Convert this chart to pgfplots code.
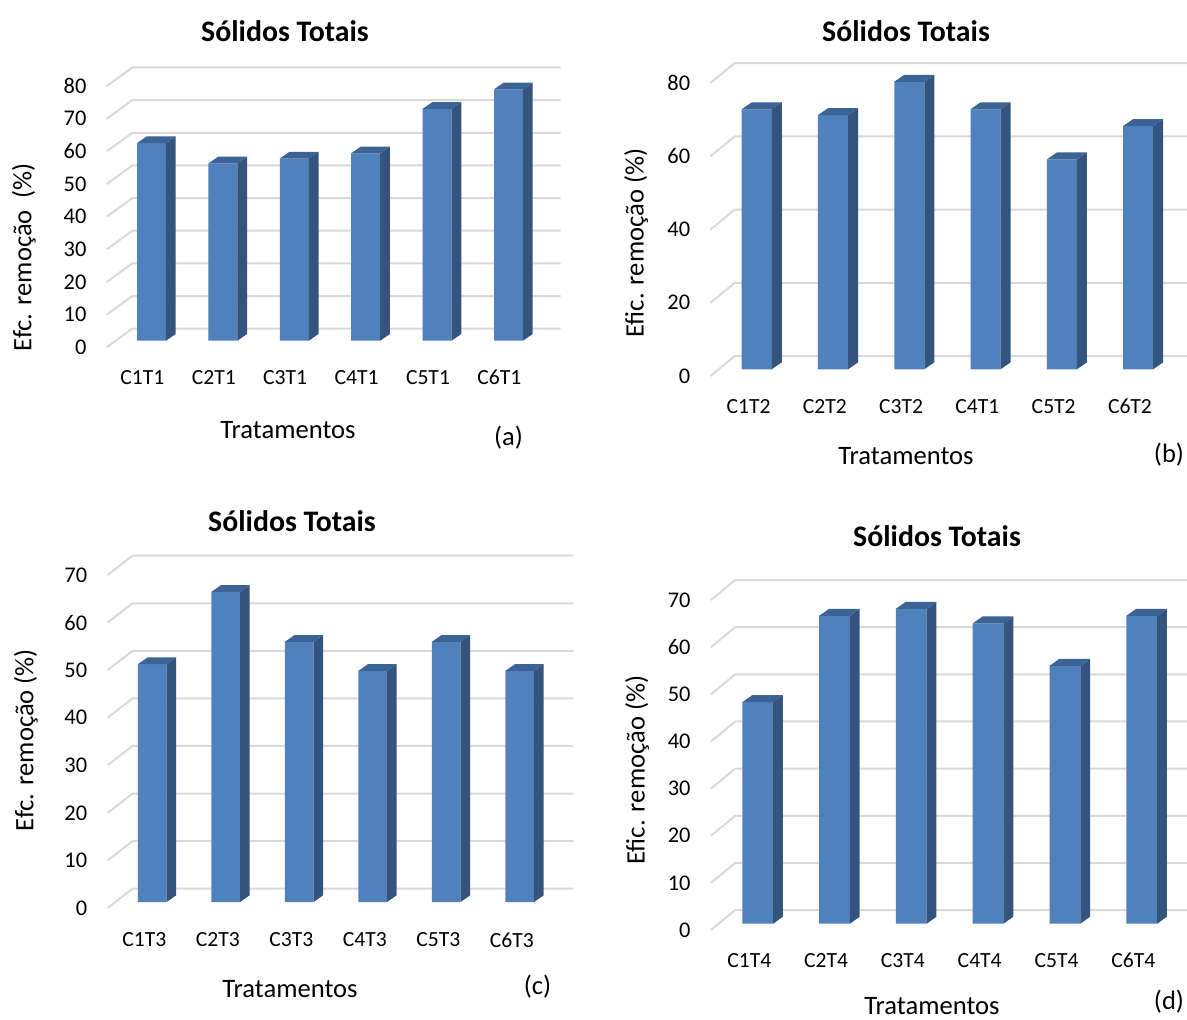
\documentclass[border=0pt]{standalone}
\usepackage{fontspec}
\setmainfont{Carlito}
\usepackage{pgfplots}
\usepackage{pgfplotstable}
\pgfplotsset{compat=1.18}

\definecolor{barfront}{RGB}{79,129,189}
\definecolor{barside}{RGB}{52,84,126}
\definecolor{bartop}{RGB}{60,99,150}
\definecolor{gridc}{RGB}{217,217,217}

% removal efficiency per treatment (x = category index, y = %)
\pgfplotstableread{
x y
0 60.5
1 54.3
2 55.8
3 57.4
4 71.0
5 77.0
}\dataA
\pgfplotstableread{
x y
0 71.0
1 69.4
2 78.5
3 71.0
4 57.3
5 66.4
}\dataB
\pgfplotstableread{
x y
0 50.0
1 65.2
2 54.7
3 48.6
4 54.7
5 48.6
}\dataC
\pgfplotstableread{
x y
0 47.0
1 65.3
2 66.8
3 63.7
4 54.7
5 65.3
}\dataD

\pgfplotsset{
  excel3d/.style={
    scale only axis, clip=false,
    enlargelimits=false,
    xmin=-0.5, xmax=5.5, ymin=0,
    axis x line*=bottom, axis y line*=left,
    axis line style={draw=none},
    major tick style={draw=none},
    major tick length=0pt,
    xtick={0,...,5},
    /pgf/number format/assume math mode=true,
    ticklabel style={inner sep=0pt},
    yticklabel style={anchor=east, font=\fontsize{11.2}{13}\selectfont},
    xticklabel style={anchor=center, font=\fontsize{10.8}{12}\selectfont},
  }
}

% oblique gridlines: short floor segment, then along the back wall
\newcommand\backgrid[1]{%
  \pgfplotsforeachungrouped \g in {#1}{%
    \pgfmathsetmacro\xf{-0.5+\FX}\pgfmathsetmacro\yf{\g+\FY}%
    \pgfmathsetmacro\xb{-0.5+\BX}\pgfmathsetmacro\yb{\g+\BY}%
    \pgfmathsetmacro\xe{5.5+\BX}%
    \edef\temp{\noexpand\addplot[gridc, line width=1pt, mark=none, forget plot]
      coordinates {(\xf,\yf) (\xb,\yb) (\xe,\yb)};}\temp
  }}

% front faces as bars, then the side and top faces of each column
\newcommand\columns[1]{%
  \addplot[ybar, bar width=\BW, fill=barfront, draw=none, forget plot] table[x=x,y=y] {#1};
  \pgfplotsforeachungrouped \r in {0,...,5}{%
    \pgfplotstablegetelem{\r}{x}\of#1\let\cx\pgfplotsretval
    \pgfplotstablegetelem{\r}{y}\of#1\let\v\pgfplotsretval
    \pgfmathsetmacro\xl{\cx-\HW}\pgfmathsetmacro\xr{\cx+\HW}%
    \pgfmathsetmacro\xlb{\cx-\HW+\DX}\pgfmathsetmacro\xrb{\cx+\HW+\DX}%
    \pgfmathsetmacro\vb{\v+\DY}%
    \edef\temp{%
      \noexpand\addplot[fill=barside, draw=none, mark=none, forget plot]
        coordinates {(\xr,0) (\xrb,\DY) (\xrb,\vb) (\xr,\v)};
      \noexpand\addplot[fill=bartop, draw=none, mark=none, forget plot]
        coordinates {(\xl,\v) (\xlb,\vb) (\xrb,\vb) (\xr,\v)};
    }\temp
  }}

\newcommand\ttl{\fontsize{14.9}{17}\selectfont\bfseries}
\newcommand\lbl{\fontsize{13.3}{15}\selectfont}
\tikzset{txt/.style={font=\lbl, inner sep=0pt}}

\begin{document}
\begin{tikzpicture}
\useasboundingbox (0,0) rectangle (593.5pt,509.5pt);
\clip (0,0) rectangle (593.5pt,509.5pt);

% ---------- (a) ----------
\def\HW{0.203}\def\BW{0.406}\def\DX{0.136}\def\DY{2.05}
\def\BX{0.231}\def\BY{3.68}\def\FX{-0.127}\def\FY{-2.02}
\begin{axis}[excel3d, at={(57.9pt,339.15pt)}, anchor=south west,
  width=214.2pt, height=130.6pt, ymax=80, ytick={0,10,...,80},
  yticklabel style={xshift=-14.5pt, yshift=-3.3pt},
  xticklabel style={xshift=-4.55pt, yshift=-18.5pt},
  xticklabels={C1T1,C2T1,C3T1,C4T1,C5T1,C6T1}]
  \backgrid{0,10,...,80}
  \columns{\dataA}
\end{axis}
\node[font=\ttl] at (142.5pt,494pt) {Sólidos Totais};
\node[txt, rotate=90] at (12pt,381pt) {Efc. remoção~~(\%)};
\node[txt] at (144pt,294.5pt) {Tratamentos};
\node[txt] at (254.3pt,290.75pt) {(a)};

% ---------- (b) ----------
\def\HW{0.197}\def\BW{0.394}\def\DX{0.132}\def\DY{1.91}
\def\BX{0.212}\def\BY{3.63}\def\FX{-0.106}\def\FY{-1.83}
\begin{axis}[excel3d, at={(359.3pt,324.85pt)}, anchor=south west,
  width=228.8pt, height=146.5pt, ymax=80, ytick={0,20,...,80},
  yticklabel style={xshift=-14.05pt, yshift=-3.35pt},
  xticklabel style={xshift=-4.05pt, yshift=-18.6pt},
  xticklabels={C1T2,C2T2,C3T2,C4T1,C5T2,C6T2}]
  \backgrid{0,20,...,80}
  \columns{\dataB}
\end{axis}
\node[font=\ttl] at (453pt,494pt) {Sólidos Totais};
\node[txt, rotate=90] at (318pt,388pt) {Efic. remoção (\%)};
\node[txt] at (453pt,281.5pt) {Tratamentos};
\node[txt] at (584.5pt,282pt) {(b)};

% ---------- (c) ----------
\def\HW{0.195}\def\BW{0.39}\def\DX{0.13}\def\DY{1.4}
\def\BX{0.231}\def\BY{2.8}\def\FX{-0.107}\def\FY{-1.26}
\begin{axis}[excel3d, at={(57.75pt,58.5pt)}, anchor=south west,
  width=220.5pt, height=166.5pt, ymax=70, ytick={0,10,...,70},
  yticklabel style={xshift=-13.95pt, yshift=-3.0pt},
  xticklabel style={xshift=-3.95pt, yshift=-19pt},
  xticklabels={C1T3,C2T3,C3T3,C4T3,C5T3,C6T3}]
  \backgrid{0,10,...,70}
  \columns{\dataC}
\end{axis}
\node[font=\ttl] at (146pt,248.75pt) {Sólidos Totais};
\node[txt, rotate=90] at (13pt,139.5pt) {Efc. remoção (\%)};
\node[txt] at (145pt,15pt) {Tratamentos};
\node[txt] at (268.75pt,16pt) {(c)};

% ---------- (d) ----------
\def\HW{0.2}\def\BW{0.4}\def\DX{0.128}\def\DY{1.48}
\def\BX{0.207}\def\BY{2.9}\def\FX{-0.109}\def\FY{-1.34}
\begin{axis}[excel3d, at={(359.65pt,47.65pt)}, anchor=south west,
  width=230.4pt, height=165pt, ymax=70, ytick={0,10,...,70},
  yticklabel style={xshift=-14.2pt, yshift=-3.15pt},
  xticklabel style={xshift=-4.2pt, yshift=-18.4pt},
  xticklabels={C1T4,C2T4,C3T4,C4T4,C5T4,C6T4}]
  \backgrid{0,10,...,70}
  \columns{\dataD}
\end{axis}
\node[font=\ttl] at (468.5pt,241.25pt) {Sólidos Totais};
\node[txt, rotate=90] at (318.5pt,124.5pt) {Efic. remoção (\%)};
\node[txt] at (466pt,6.5pt) {Tratamentos};
\node[txt] at (584.5pt,8.75pt) {(d)};
\end{tikzpicture}
\end{document}
